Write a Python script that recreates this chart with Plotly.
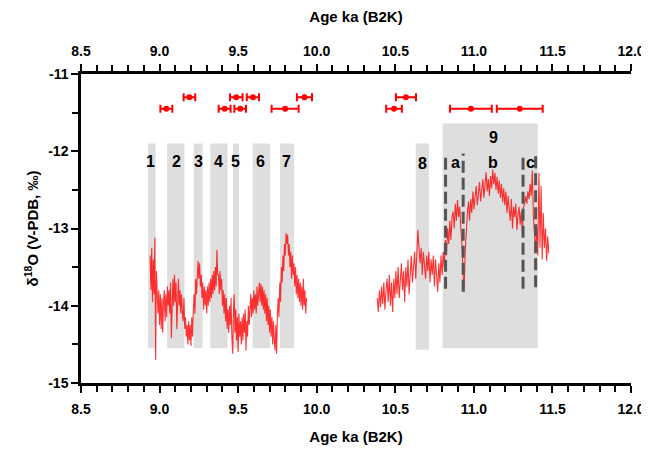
import plotly.graph_objects as go

# ---------------- data ----------------
age_a = [
 8.940, 8.945, 8.950, 8.955, 8.960, 8.965, 8.970, 8.975, 8.980, 8.985,
 8.990, 8.995, 9.000, 9.005, 9.010, 9.015, 9.020, 9.025, 9.030, 9.035,
 9.040, 9.045, 9.050, 9.055, 9.060, 9.065, 9.070, 9.075, 9.080, 9.085,
 9.090, 9.095, 9.100, 9.105, 9.110, 9.115, 9.120, 9.125, 9.130, 9.135,
 9.140, 9.145, 9.150, 9.155, 9.160, 9.165, 9.170, 9.175, 9.180, 9.185,
 9.190, 9.195, 9.200, 9.205, 9.210, 9.215, 9.220, 9.225, 9.230, 9.235,
 9.240, 9.245, 9.250, 9.255, 9.260, 9.265, 9.270, 9.275, 9.280, 9.285,
 9.290, 9.295, 9.300, 9.305, 9.310, 9.315, 9.320, 9.325, 9.330, 9.335,
 9.340, 9.345, 9.350, 9.355, 9.360, 9.365, 9.370, 9.375, 9.380, 9.385,
 9.390, 9.395, 9.400, 9.405, 9.410, 9.415, 9.420, 9.425, 9.430, 9.435,
 9.440, 9.445, 9.450, 9.455, 9.460, 9.465, 9.470, 9.475, 9.480, 9.485,
 9.490, 9.495, 9.500, 9.505, 9.510, 9.515, 9.520, 9.525, 9.530, 9.535,
 9.540, 9.545, 9.550, 9.555, 9.560, 9.565, 9.570, 9.575, 9.580, 9.585,
 9.590, 9.595, 9.600, 9.605, 9.610, 9.615, 9.620, 9.625, 9.630, 9.635,
 9.640, 9.645, 9.650, 9.655, 9.660, 9.665, 9.670, 9.675, 9.680, 9.685,
 9.690, 9.695, 9.700, 9.705, 9.710, 9.715, 9.720, 9.725, 9.730, 9.735,
 9.740, 9.745, 9.750, 9.755, 9.760, 9.765, 9.770, 9.775, 9.780, 9.785,
 9.790, 9.795, 9.800, 9.805, 9.810, 9.815, 9.820, 9.825, 9.830, 9.835,
 9.840, 9.845, 9.850, 9.855, 9.860, 9.865, 9.870, 9.875, 9.880, 9.885,
 9.890, 9.895, 9.900, 9.905, 9.910, 9.915, 9.920, 9.925, 9.930, 9.935,
]
d18o_a = [
 -13.35, -13.80, -13.25, -13.95, -13.40, -13.85, -13.12, -14.70, -13.55, -14.00,
 -14.10, -13.80, -14.25, -13.85, -14.30, -13.90, -14.35, -13.95, -13.80, -14.20,
 -13.85, -14.15, -13.75, -14.00, -13.80, -14.10, -13.70, -14.42, -13.75, -13.65,
 -14.00, -13.60, -13.95, -13.70, -14.30, -13.75, -13.65, -14.00, -13.80, -14.10,
 -13.85, -14.10, -14.20, -13.90, -14.30, -14.15, -14.40, -14.25, -14.50, -14.20,
 -14.45, -14.25, -14.52, -14.15, -14.40, -14.05, -13.85, -14.10, -13.65, -13.85,
 -13.50, -13.42, -13.65, -13.45, -13.75, -13.60, -13.90, -13.70, -14.05, -13.75,
 -14.00, -13.80, -14.10, -13.75, -14.00, -13.70, -13.95, -13.65, -13.90, -13.60,
 -13.85, -13.55, -13.80, -13.50, -13.75, -13.28, -13.60, -13.60, -13.85, -13.55,
 -13.80, -13.65, -14.00, -13.80, -14.10, -13.85, -14.20, -13.90, -14.30, -14.05,
 -14.35, -14.00, -14.25, -13.90, -14.40, -14.62, -14.10, -13.85, -14.35, -14.05,
 -14.45, -14.15, -14.60, -14.10, -14.40, -14.20, -14.50, -14.15, -14.45, -14.10,
 -14.35, -14.05, -14.58, -14.20, -14.40, -14.00, -14.25, -13.95, -13.85, -14.15,
 -13.90, -14.10, -13.80, -14.05, -13.85, -14.10, -13.75, -14.00, -13.80, -13.70,
 -13.95, -13.72, -14.00, -13.75, -14.05, -13.80, -14.10, -13.85, -14.20, -13.90,
 -14.25, -14.00, -14.35, -14.05, -14.40, -14.15, -14.50, -14.20, -14.45, -14.58,
 -14.25, -14.62, -14.10, -13.90, -14.15, -13.70, -13.95, -13.50, -13.70, -13.35,
 -13.55, -13.20, -13.35, -13.06, -13.20, -13.08, -13.35, -13.20, -13.50, -13.30,
 -13.65, -13.35, -13.60, -13.45, -13.75, -13.50, -13.85, -13.60, -13.90, -13.65,
 -13.95, -13.70, -14.00, -13.75, -14.05, -13.65, -14.00, -13.80, -14.10, -13.90,
]

age_b = [
 10.385, 10.392, 10.399, 10.406, 10.413, 10.420, 10.427, 10.434, 10.441, 10.448,
 10.455, 10.462, 10.469, 10.476, 10.483, 10.490, 10.497, 10.504, 10.511, 10.518,
 10.525, 10.532, 10.539, 10.546, 10.553, 10.560, 10.567, 10.574, 10.581, 10.588,
 10.595, 10.602, 10.609, 10.616, 10.623, 10.630, 10.637, 10.644, 10.651, 10.658,
 10.665, 10.672, 10.679, 10.686, 10.693, 10.700, 10.707, 10.714, 10.721, 10.728,
 10.735, 10.742, 10.749, 10.756, 10.763, 10.770, 10.777, 10.784, 10.791, 10.798,
 10.805, 10.812, 10.819, 10.826, 10.833, 10.840, 10.847, 10.854, 10.861, 10.868,
 10.875, 10.882, 10.889, 10.896, 10.903, 10.910, 10.917, 10.924, 10.931, 10.938,
 10.945, 10.952, 10.959, 10.966, 10.973, 10.980, 10.987, 10.994, 11.001, 11.008,
 11.015, 11.022, 11.029, 11.036, 11.043, 11.050, 11.057, 11.064, 11.071, 11.078,
 11.085, 11.092, 11.099, 11.106, 11.113, 11.120, 11.127, 11.134, 11.141, 11.148,
 11.155, 11.162, 11.169, 11.176, 11.183, 11.190, 11.197, 11.204, 11.211, 11.218,
 11.225, 11.232, 11.239, 11.246, 11.253, 11.260, 11.267, 11.274, 11.281, 11.288,
 11.295, 11.302, 11.309, 11.316, 11.323, 11.330, 11.337, 11.344, 11.351, 11.358,
 11.365, 11.372, 11.379, 11.386, 11.393, 11.400, 11.407, 11.414, 11.421, 11.428,
 11.435, 11.442, 11.449, 11.456, 11.463, 11.470, 11.477,
]
d18o_b = [
 -13.90, -14.08, -13.80, -14.02, -13.75, -13.98, -13.70, -14.05, -13.80, -13.65,
 -13.95, -13.60, -14.00, -13.70, -14.08, -13.65, -13.90, -13.55, -13.85, -13.50,
 -13.90, -13.60, -13.45, -13.80, -13.55, -13.95, -13.50, -13.75, -13.40, -13.85,
 -13.50, -13.35, -13.70, -13.45, -13.30, -13.65, -13.40, -13.02, -13.25, -13.45,
 -13.25, -13.60, -13.30, -13.50, -13.65, -13.35, -13.55, -13.30, -13.70, -13.40,
 -13.60, -13.35, -13.75, -13.40, -13.65, -13.82, -13.45, -13.70, -13.35, -13.60,
 -13.30, -13.50, -13.15, -13.35, -13.00, -13.20, -12.90, -13.15, -12.85, -12.78,
 -13.00, -12.68, -12.90, -12.63, -12.85, -12.72, -13.00, -13.20, -13.55, -13.82,
 -13.30, -13.00, -12.80, -12.65, -12.90, -12.62, -12.80, -12.52, -12.75, -12.58,
 -12.45, -12.70, -12.52, -12.40, -12.65, -12.48, -12.36, -12.60, -12.42, -12.27,
 -12.52, -12.36, -12.58, -12.32, -12.48, -12.24, -12.43, -12.28, -12.50, -12.33,
 -12.55, -12.38, -12.60, -12.42, -12.66, -12.48, -12.70, -12.52, -12.80, -12.58,
 -12.75, -12.90, -12.62, -13.00, -12.72, -12.85, -12.68, -13.02, -12.82, -12.72,
 -12.95, -12.78, -13.05, -12.72, -12.68, -12.58, -12.68, -12.52, -12.62, -12.42,
 -12.58, -12.25, -12.85, -13.15, -13.30, -12.95, -13.35, -12.28, -13.25, -12.45,
 -13.40, -12.80, -13.25, -13.00, -13.42, -13.10, -13.32,
]

# dating points (age, +/- error) in two rows
date_age_up = [9.190, 9.488, 9.594, 9.922, 10.568]
date_err_up = [0.037, 0.040, 0.039, 0.048, 0.064]
date_y_up = [-11.30, -11.30, -11.30, -11.30, -11.30]
date_age_lo = [9.043, 9.414, 9.513, 9.799, 10.492, 10.981, 11.292]
date_err_lo = [0.038, 0.038, 0.037, 0.086, 0.050, 0.133, 0.146]
date_y_lo = [-11.45, -11.45, -11.45, -11.45, -11.45, -11.45, -11.45]

# shaded events
band_names = ["1", "2", "3", "4", "5", "6", "7", "8", "9"]
band_start = [8.927, 9.048, 9.217, 9.323, 9.467, 9.592, 9.767, 10.630, 10.801]
band_end = [8.975, 9.158, 9.274, 9.433, 9.505, 9.704, 9.856, 10.714, 11.407]
band_top = [-11.90, -11.90, -11.90, -11.90, -11.90, -11.90, -11.90, -11.90, -11.64]
band_bottom = [-14.55, -14.55, -14.55, -14.55, -14.55, -14.55, -14.55, -14.57, -14.55]
label_x = [8.943, 9.105, 9.245, 9.372, 9.486, 9.642, 9.810, 10.672, 11.128]
label_y = [-12.13, -12.13, -12.13, -12.13, -12.13, -12.13, -12.13, -12.16, -11.82]

# sub-events of 9
sub_names = ["a", "b", "c"]
sub_x = [10.880, 11.120, 11.358]
sub_y = [-12.15, -12.15, -12.15]
dash_x = [10.820, 10.932, 11.313, 11.393]
dash_top = [-12.03, -12.03, -12.03, -12.03]
dash_bottom = [-13.78, -13.82, -13.78, -13.76]

x_ticks = [8.5, 9.0, 9.5, 10.0, 10.5, 11.0, 11.5, 12.0]
y_ticks = [-11, -12, -13, -14, -15]

# ---------------- figure ----------------
FONT = "Liberation Sans, Arial, sans-serif"
RED = "#ff0000"

fig = go.Figure()

for ax, ay in [(age_a, d18o_a), (age_b, d18o_b)]:
    fig.add_trace(go.Scatter(x=ax, y=ay, mode="lines",
                             line=dict(color="rgba(255,0,0,0.8)", width=1.1),
                             showlegend=False, hoverinfo="skip"))

for ax, ay, ae in [(date_age_up, date_y_up, date_err_up),
                   (date_age_lo, date_y_lo, date_err_lo)]:
    fig.add_trace(go.Scatter(
        x=ax, y=ay, mode="markers",
        marker=dict(color=RED, size=6),
        error_x=dict(type="data", array=ae, color=RED, thickness=2, width=4),
        showlegend=False, hoverinfo="skip"))

# invisible trace that carries the top axis
fig.add_trace(go.Scatter(x=[8.5, 12.0], y=[None, None], xaxis="x2",
                         mode="lines", showlegend=False, hoverinfo="skip"))

shapes = []
for s, e, t, b in zip(band_start, band_end, band_top, band_bottom):
    shapes.append(dict(type="rect", xref="x", yref="y", x0=s, x1=e, y0=b, y1=t,
                       fillcolor="#dedede", line=dict(width=0), layer="below"))
for dx, dt, db in zip(dash_x, dash_top, dash_bottom):
    shapes.append(dict(type="line", xref="x", yref="y", x0=dx, x1=dx, y0=db, y1=dt,
                       line=dict(color="#555555", width=3, dash="12px,5px"), layer="above"))

annotations = []
for n, lx, ly in zip(band_names + sub_names, label_x + sub_x, label_y + sub_y):
    annotations.append(dict(x=lx, y=ly, xref="x", yref="y", text="<b>%s</b>" % n,
                            showarrow=False, font=dict(family=FONT, size=16, color="#000")))

tickfont = dict(family=FONT, size=14, color="#000")
titlefont = dict(family=FONT, size=15, color="#000")

xcommon = dict(range=[8.5, 12.0], tickvals=x_ticks,
               ticktext=["<b>%.1f</b>" % v for v in x_ticks],
               ticks="outside", ticklen=7, tickwidth=2, tickcolor="#000",
               showline=True, linewidth=2.5, linecolor="#000", automargin=False,
               showgrid=False, zeroline=False, tickfont=tickfont,
               minor=dict(dtick=0.1, tick0=8.5, ticks="outside", ticklen=6,
                          tickwidth=1.8, tickcolor="#000", showgrid=False))

# the page body has an 8px default margin, so the figure is offset by 8px
fig.update_layout(
    width=641, height=441,
    margin=dict(l=72.5, r=17.5, t=66, b=66),
    paper_bgcolor="white", plot_bgcolor="white",
    shapes=shapes, annotations=annotations,
    xaxis=dict(**xcommon, side="bottom", ticklabelstandoff=4,
               title=dict(text="<b>Age ka (B2K)</b>", font=titlefont, standoff=16)),
    xaxis2=dict(**xcommon, side="top", overlaying="x", ticklabelstandoff=3,
                title=dict(text="<b>Age ka (B2K)</b>", font=titlefont, standoff=29)),
    yaxis=dict(range=[-15, -11], tickvals=y_ticks,
               ticktext=["<b>%d</b>" % v for v in y_ticks],
               ticks="outside", ticklen=7, tickwidth=2, tickcolor="#000",
               showline=True, linewidth=2.5, linecolor="#000", automargin=False,
               showgrid=False, zeroline=False, tickfont=tickfont,
               minor=dict(dtick=0.5, tick0=-15, ticks="outside", ticklen=6,
                          tickwidth=1.8, tickcolor="#000", showgrid=False),
               title=dict(text="<b>δ<sup>18</sup>O (V-PDB, ‰)</b>", font=titlefont,
                          standoff=6)),
)

fig.write_html("out.html")
